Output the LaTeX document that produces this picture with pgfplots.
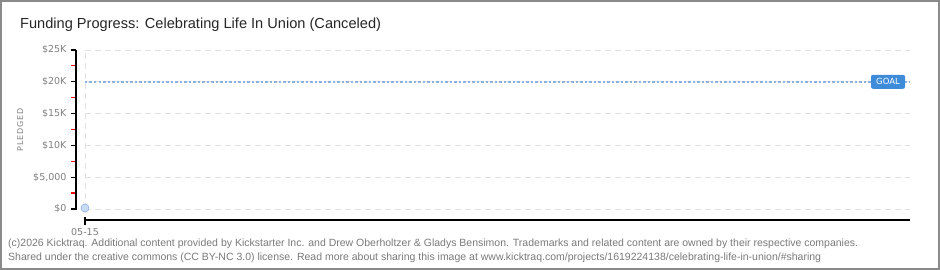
\documentclass[border=0pt]{standalone}
\usepackage{pgfplots}
\pgfplotsset{compat=1.18}
\usepackage{fontspec}
\setmainfont{DejaVu Sans}
\newfontfamily\lib{Liberation Sans}
\newfontfamily\spaced[LetterSpace=10]{DejaVu Sans}
\definecolor{tickgray}{HTML}{808080}
\definecolor{framegray}{HTML}{8A8A8A}
\definecolor{gridc}{HTML}{E2E2E2}
\definecolor{goalline}{HTML}{8DB2DE}
\definecolor{goalbox}{HTML}{3D8BD9}
\definecolor{ptfill}{HTML}{C8DDF5}
\definecolor{ptdraw}{HTML}{8DB2DE}
\definecolor{foot}{HTML}{7A7A7A}
\begin{document}
\begin{tikzpicture}[x=1pt,y=1pt]
\useasboundingbox (0,0) rectangle (940,270);
\fill[white] (0,0) rectangle (940,270);
\draw[framegray, line width=2pt] (1,1) rectangle (939,269);
\node[anchor=base west, font=\lib\fontsize{14.6}{16}\selectfont, text=black!85, inner sep=0] at (20,241) {Funding Progress: Celebrating Life In Union (Canceled)};
\begin{axis}[
  at={(76pt,50pt)}, anchor=south west,
  width=834pt, height=170pt, scale only axis,
  xmin=-9, xmax=825, ymin=-1730, ymax=25000,
  axis x line*=bottom, axis y line*=left,
  x axis line style={black, line width=1.6pt, shorten <=9pt},
  y axis line style={draw=none},
  clip=false,
  scaled y ticks=false,
  ytick={0,5000,10000,15000,20000,25000},
  yticklabels={{\$0},{\$5,000},{\$10K},{\$15K},{\$20K},{\$25K}},
  extra y ticks={2500,7500,12500,17500,22500},
  extra y tick labels={},
  extra y tick style={major tick style={draw=red, line width=1.2pt}},
  minor tick num=0,
  xtick={0}, xticklabels={05-15},
  tick align=outside,
  major tick length=5pt,
  major tick style={draw=black, line width=1.2pt},
  yticklabel style={font=\fontsize{9.5}{10}\selectfont, text=tickgray, xshift=-1pt},
  xticklabel style={font=\fontsize{9.5}{10}\selectfont, text=tickgray},
]
\pgfplotsinvokeforeach{0,5000,10000,15000,20000,25000}{
  \draw[gridc, line width=0.8pt, dash pattern=on 6pt off 4pt] (axis cs:0,#1) -- (axis cs:825,#1);
}
\draw[gridc, line width=0.8pt, dash pattern=on 6pt off 4pt] (axis cs:0,0) -- (axis cs:0,25000);
\draw[black, line width=1.2pt] (axis cs:0,-1250) -- (axis cs:0,-1730);
\draw[black, line width=2pt] (axis cs:-9,-160) -- (axis cs:-9,25000);
\addplot[goalline, line width=2pt, dash pattern=on 2.5pt off 2pt] coordinates {(0,20000) (825,20000)};
\addplot[only marks, mark=*, mark size=4pt, mark options={fill=ptfill, draw=ptdraw, line width=0.6pt}] coordinates {(0,150)};
\node[fill=goalbox, text=white, rounded corners=2pt, minimum width=34pt, minimum height=14pt, inner sep=0, font=\fontsize{8.5}{9}\selectfont] at (axis cs:803,20000) {GOAL};
\node[rotate=90, font=\spaced\fontsize{8}{9}\selectfont, text=tickgray] at (rel axis cs:-0.067,0.529) {PLEDGED};
\end{axis}
\node[anchor=base west, inner sep=0, font=\lib\fontsize{10.5}{12}\selectfont, text=foot] at (8,23) {(c)2026 Kicktraq. Additional content provided by Kickstarter Inc. and Drew Oberholtzer \& Gladys Bensimon. Trademarks and related content are owned by their respective companies.};
\node[anchor=base west, inner sep=0, font=\lib\fontsize{10.5}{12}\selectfont, text=foot] at (8,9) {Shared under the creative commons (CC BY-NC 3.0) license. Read more about sharing this image at www.kicktraq.com/projects/1619224138/celebrating-life-in-union/\#sharing};
\end{tikzpicture}
\end{document}
